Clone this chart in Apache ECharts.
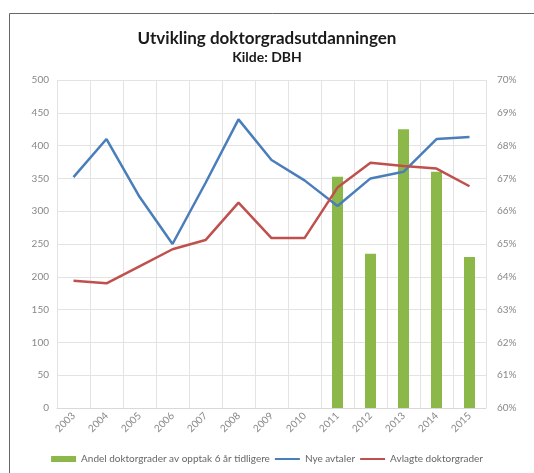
<!DOCTYPE html>
<html>
<head>
<meta charset="utf-8">
<script src="https://cdn.jsdelivr.net/npm/echarts@6/dist/echarts.min.js"></script>
<style>
  html, body { margin: 0; padding: 0; background: #fff; }
  #chart { width: 534px; height: 473px; }
</style>
</head>
<body>
<div id="chart"></div>
<script>
const years = ['2003', '2004', '2005', '2006', '2007', '2008', '2009', '2010', '2011', '2012', '2013', '2014', '2015'];
const andel = [null, null, null, null, null, null, null, null, 67.05, 64.7, 68.5, 67.2, 64.6];
const nyeAvtaler = [352, 410, 322, 250, 343, 440, 378, 347, 308, 350, 360, 410, 413];
const avlagte = [194, 190, 216, 242, 256, 313, 259, 259, 336, 374, 369, 365, 338];
const leftTicks = { min: 0, max: 500, interval: 50 };
const rightTicks = { min: 60, max: 70, interval: 1 };

const chart = echarts.init(document.getElementById('chart'));
const font = 'Lato, "Open Sans", sans-serif';

chart.setOption({
  animation: false,
  textStyle: { fontFamily: font },
  title: {
    text: 'Utvikling doktorgradsutdanningen',
    subtext: 'Kilde: DBH',
    left: 'center',
    top: 25,
    itemGap: 3,
    textStyle: { fontFamily: font, fontSize: 17, fontWeight: 'bold', color: '#1a1a1a' },
    subtextStyle: { fontFamily: font, fontSize: 14, fontWeight: 'bold', color: '#1a1a1a' }
  },
  graphic: [{
    type: 'rect',
    shape: { x: 9.5, y: 13.5, width: 530, height: 470 },
    style: { fill: 'none', stroke: '#666', lineWidth: 1 }
  }],
  legend: {
    bottom: 4,
    left: 'center',
    itemWidth: 25,
    itemHeight: 6,
    itemGap: 4,
    textStyle: { fontFamily: font, fontSize: 10, color: '#666' },
    data: [
      { name: 'Andel doktorgrader av opptak 6 år tidligere', icon: 'rect' },
      { name: 'Nye avtaler', itemStyle: { opacity: 0 } },
      { name: 'Avlagte doktorgrader', itemStyle: { opacity: 0 } }
    ]
  },
  grid: { left: 57, right: 48, top: 80, bottom: 65 },
  xAxis: {
    type: 'category',
    data: years,
    boundaryGap: true,
    axisLine: { lineStyle: { color: '#d9d9d9' } },
    axisTick: { show: false },
    splitLine: { show: true, lineStyle: { color: '#e3e3e3' } },
    axisLabel: { rotate: 45, color: '#888', fontSize: 10, margin: 6 }
  },
  yAxis: [{
    type: 'value',
    min: leftTicks.min,
    max: leftTicks.max,
    interval: leftTicks.interval,
    axisLine: { show: false },
    axisTick: { show: false },
    splitLine: { lineStyle: { color: '#e3e3e3' } },
    axisLabel: { color: '#888', fontSize: 10, margin: 8 }
  }, {
    type: 'value',
    min: rightTicks.min,
    max: rightTicks.max,
    interval: rightTicks.interval,
    axisLine: { show: false },
    axisTick: { show: false },
    splitLine: { show: false },
    axisLabel: { color: '#888', fontSize: 10, margin: 11, formatter: '{value}%' }
  }],
  series: [{
    name: 'Andel doktorgrader av opptak 6 år tidligere',
    type: 'bar',
    yAxisIndex: 1,
    data: andel,
    barWidth: 11,
    clip: true,
    itemStyle: { color: '#8cb849' }
  }, {
    name: 'Nye avtaler',
    type: 'line',
    data: nyeAvtaler,
    symbol: 'none',
    lineStyle: { color: '#4a7ebb', width: 2.5 },
    itemStyle: { color: '#4a7ebb' }
  }, {
    name: 'Avlagte doktorgrader',
    type: 'line',
    data: avlagte,
    symbol: 'none',
    lineStyle: { color: '#c0504d', width: 2.5 },
    itemStyle: { color: '#c0504d' }
  }]
});
</script>
</body>
</html>
